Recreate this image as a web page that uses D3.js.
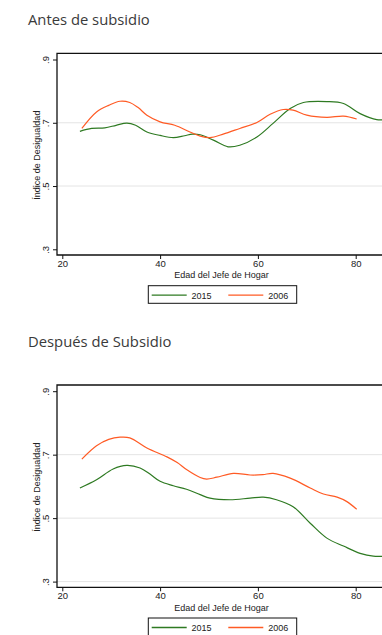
<!DOCTYPE html>
<html><head><meta charset="utf-8">
<script src="https://cdn.jsdelivr.net/npm/d3@7"></script>
<style>body{margin:0;background:#fff;overflow:hidden}svg{display:block}</style>
</head><body>
<script>
// ---- data ----
const panelTitles = ["Antes de subsidio", "Después de Subsidio"];
const seriesNames = ["2015", "2006"];
const yTicks = [0.3, 0.5, 0.7, 0.9];
const yTickLabels = [".3", ".5", ".7", ".9"];
const gridAntes = [0.5, 0.7];
const gridDespues = [0.3, 0.5, 0.7];
const xTicks = [20, 40, 60, 80];
const yTitle = "Índice de Desigualdad";
const xTitle = "Edad del Jefe de Hogar";

const antes2015Age = [23.6, 26, 28.7, 31, 33.2, 35, 37.3, 40, 42.7, 45, 46.6, 48.2, 50.9, 53.9, 56.3, 59.8, 63.1, 66.6, 69.3, 74.1, 77.5, 80.9, 84.3, 87];
const antes2015Val = [.673, .682, .684, .692, .699, .692, .671, .660, .653, .659, .664, .662, .645, .624, .629, .655, .698, .745, .764, .767, .761, .729, .710, .712];
const antes2006Age = [24, 27, 29.5, 31.8, 33.8, 35.5, 37.3, 40, 43, 46.1, 48.2, 50.2, 52.9, 56.3, 59.8, 62.5, 65.2, 67.2, 70, 74.1, 77.5, 80.2];
const antes2006Val = [.682, .734, .755, .768, .764, .748, .724, .703, .692, .671, .658, .653, .664, .682, .701, .727, .742, .740, .724, .717, .721, .712];

const despues2015Age = [23.6, 27, 30.4, 33.2, 35.9, 38, 40, 42.7, 45.4, 48.2, 50.2, 54.3, 58.4, 61.1, 63.8, 67.2, 70.7, 74.1, 77.5, 80.9, 83.6, 87];
const despues2015Val = [.595, .621, .655, .666, .658, .638, .616, .602, .591, .574, .563, .558, .563, .566, .558, .536, .484, .437, .412, .389, .380, .381];
const despues2006Age = [24, 27, 29.5, 31.8, 33.8, 37.3, 41.4, 43.5, 45.4, 48.2, 49.5, 51.6, 55, 58.4, 61, 63.1, 66.6, 70.7, 73.4, 76.2, 78.2, 80.2];
const despues2006Val = [.686, .728, .748, .755, .753, .721, .693, .675, .653, .628, .623, .629, .641, .636, .637, .641, .626, .595, .576, .566, .552, .528];

const colors = ["#2e7a22", "#ff5b25"];

// ---- drawing ----
const W = 382, H = 635;
const svg = d3.select("body").append("svg").attr("width", W).attr("height", H);

const panels = [
  {title: panelTitles[0], titleY: 25, top: 53.3, bottom: 255, grid: gridAntes,
   series: [[antes2015Age, antes2015Val], [antes2006Age, antes2006Val]]},
  {title: panelTitles[1], titleY: 346.5, top: 385, bottom: 587.3, grid: gridDespues,
   series: [[despues2015Age, despues2015Val], [despues2006Age, despues2006Val]]}
];

const axisFont = "'Liberation Sans', Arial, sans-serif";

panels.forEach((p, pi) => {
  const left = 57, right = 400;
  const g = svg.append("g");
  g.append("text").attr("x", 28).attr("y", p.titleY)
    .attr("font-family", "'Open Sans', 'Noto Sans', sans-serif")
    .attr("font-size", 14.8).attr("fill", "#3a3a3a").text(p.title);

  const x = d3.scaleLinear().domain([20, 80]).range([62.3, 355.7]);
  const y = d3.scaleLinear().domain([0.3, 0.9]).range([p.bottom - 5.7, p.top + 6.2]);

  // gridlines
  g.selectAll("line.grid").data(p.grid).join("line")
    .attr("x1", left).attr("x2", right)
    .attr("y1", d => y(d)).attr("y2", d => y(d))
    .attr("stroke", "#e4e4e4").attr("stroke-width", 1);

  const clipId = "clip" + pi;
  svg.append("clipPath").attr("id", clipId).append("rect")
    .attr("x", left).attr("y", p.top).attr("width", right - left).attr("height", p.bottom - p.top);

  const line = d3.line().x(d => x(d[0])).y(d => y(d[1])).curve(d3.curveCatmullRom.alpha(0.5));
  p.series.forEach((s, si) => {
    const pts = s[0].map((a, i) => [a, s[1][i]]);
    g.append("path").datum(pts).attr("d", line)
      .attr("clip-path", `url(#${clipId})`)
      .attr("fill", "none").attr("stroke", colors[si]).attr("stroke-width", 1.2);
  });

  // frame
  g.append("path")
    .attr("d", `M${right},${p.top}H${left}V${p.bottom}H${right}`)
    .attr("fill", "none").attr("stroke", "#111").attr("stroke-width", 1.3);

  // y axis
  const ya = g.append("g").attr("transform", `translate(${left},0)`)
    .call(d3.axisLeft(y).tickValues(yTicks).tickSize(4).tickFormat((d, i) => yTickLabels[i]));
  ya.select(".domain").remove();
  ya.selectAll(".tick line").attr("stroke", "#111");
  ya.selectAll(".tick text").attr("font-family", axisFont).attr("font-size", 9.5).attr("fill", "#222")
    .attr("x", null).attr("dy", null)
    .attr("transform", "translate(-8.5,0) rotate(-90)")
    .attr("text-anchor", "middle");

  // x axis
  const xa = g.append("g").attr("transform", `translate(0,${p.bottom})`)
    .call(d3.axisBottom(x).tickValues(xTicks).tickSize(4).tickFormat(d3.format("d")));
  xa.select(".domain").remove();
  xa.selectAll(".tick line").attr("stroke", "#111");
  xa.selectAll(".tick text").attr("font-family", axisFont).attr("font-size", 9.5).attr("fill", "#222")
    .attr("y", 5).attr("dy", "0.71em");

  // titles
  g.append("text").attr("transform", `translate(39.5,${(p.top + p.bottom) / 2 + 1}) rotate(-90)`)
    .attr("text-anchor", "middle").attr("font-family", axisFont).attr("font-size", 9)
    .attr("fill", "#222").text(yTitle);
  g.append("text").attr("x", 221.5).attr("y", p.bottom + 23.3)
    .attr("text-anchor", "middle").attr("font-family", axisFont).attr("font-size", 9)
    .attr("fill", "#222").text(xTitle);

  // legend
  const ly = p.bottom + 30.7;
  const lg = g.append("g");
  lg.append("rect").attr("x", 148.3).attr("y", ly).attr("width", 148.4).attr("height", 17.6)
    .attr("fill", "#fff").attr("stroke", "#111").attr("stroke-width", 1);
  const items = [{x1: 151.7, x2: 186.7, tx: 191.5}, {x1: 228.3, x2: 263.3, tx: 268.3}];
  items.forEach((it, i) => {
    lg.append("line").attr("x1", it.x1).attr("x2", it.x2).attr("y1", ly + 9.5).attr("y2", ly + 9.5)
      .attr("stroke", colors[i]).attr("stroke-width", 1.3);
    lg.append("text").attr("x", it.tx).attr("y", ly + 12.8).attr("font-family", axisFont)
      .attr("font-size", 9).attr("fill", "#222").text(seriesNames[i]);
  });
});
</script>
</body></html>
